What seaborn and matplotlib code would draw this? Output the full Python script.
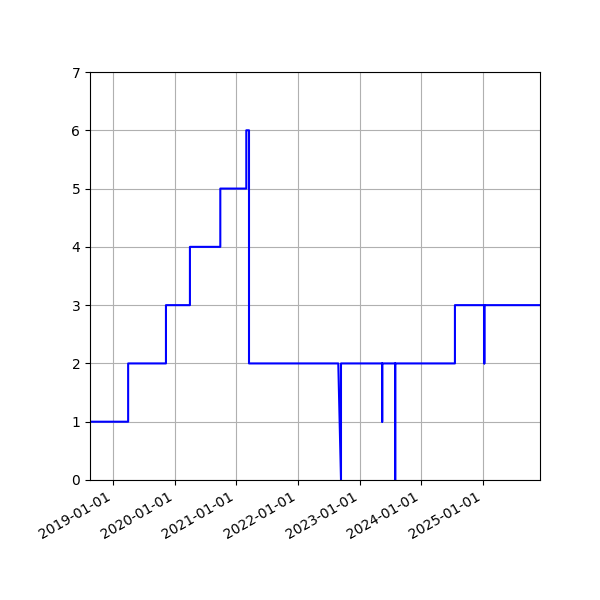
import pandas as pd
import matplotlib
matplotlib.use('Agg')
import matplotlib.pyplot as plt
import matplotlib.dates as mdates
import seaborn as sns

# points (date, level); repeated dates give the vertical jumps
dates = ['2018-08-18', '2019-04-01', '2019-04-01', '2019-11-11', '2019-11-11',
         '2020-04-01', '2020-04-01', '2020-09-28', '2020-09-28', '2021-03-01',
         '2021-03-01', '2021-03-17', '2021-03-17', '2022-08-28', '2022-09-13',
         '2022-09-13', '2023-05-15', '2023-05-15', '2023-05-15', '2023-07-31',
         '2023-07-31', '2023-07-31', '2024-07-19', '2024-07-19', '2025-01-09',
         '2025-01-09', '2025-01-09', '2025-12-05']
levels = [1, 1, 2, 2, 3,
          3, 4, 4, 5, 5,
          6, 6, 2, 2, 0,
          2, 2, 1, 2, 2,
          0, 2, 2, 3, 3,
          2, 3, 3]

df = pd.DataFrame({'date': pd.to_datetime(dates), 'level': levels})

fig, ax = plt.subplots(figsize=(6, 6), dpi=100)
sns.lineplot(data=df, x='date', y='level', ax=ax, color='blue',
             estimator=None, sort=False, linewidth=1.5)

ax.set_xlim(df['date'].min(), df['date'].max())
ax.set_ylim(0, 7)
ax.xaxis.set_major_locator(mdates.YearLocator())
ax.xaxis.set_major_formatter(mdates.DateFormatter('%Y-%m-%d'))
ax.set_xlabel('')
ax.set_ylabel('')
ax.grid(True)
fig.autofmt_xdate()
fig.subplots_adjust(left=0.15, right=0.9, top=0.88, bottom=0.2)

fig.savefig('out.png')
